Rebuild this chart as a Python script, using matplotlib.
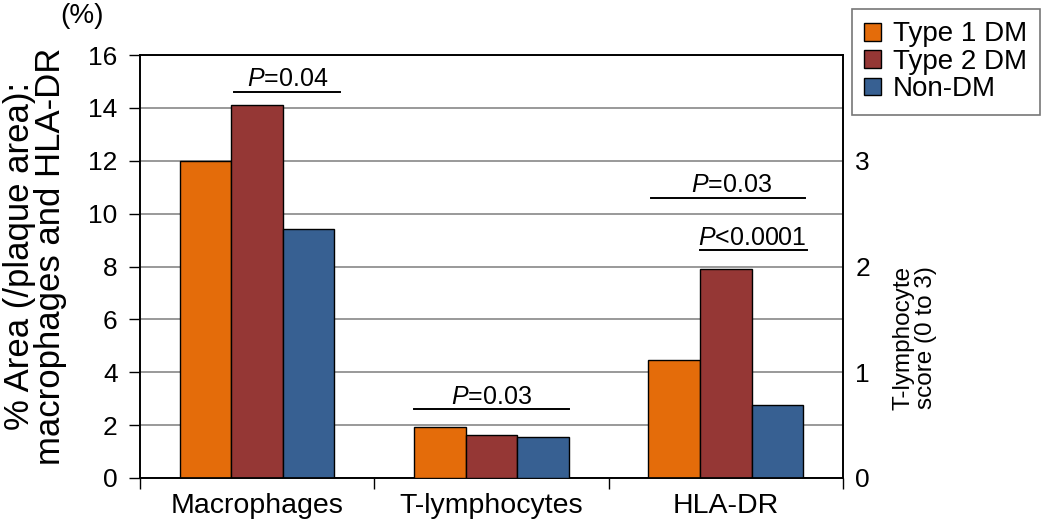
import numpy as np
import matplotlib
matplotlib.use("Agg")
import matplotlib.pyplot as plt
from matplotlib.patches import Patch

plt.rcParams['font.family'] = ['Liberation Sans', 'DejaVu Sans']
plt.rcParams['mathtext.fontset'] = 'custom'
plt.rcParams['mathtext.rm'] = 'Liberation Sans'
plt.rcParams['mathtext.it'] = 'Liberation Sans:italic'

categories = ['Macrophages', 'T-lymphocytes', 'HLA-DR']
groups = ['Type 1 DM', 'Type 2 DM', 'Non-DM']
colors = ['#E46C0A', '#953735', '#376092']

# % area (left axis) for macrophages and HLA-DR
macrophages = [12.0, 14.1, 9.4]
hla_dr = [4.45, 7.9, 2.75]
# T-lymphocyte score (right axis, 0 to 3)
t_lymph = [0.485, 0.41, 0.39]

fig = plt.figure(figsize=(10.5, 5.28), dpi=100)
ax = fig.add_axes([0.1333, 0.0947, 0.6695, 0.8011])
ax2 = ax.twinx()

w = 0.22
offsets = np.array([-1, 0, 1]) * w
for i in range(3):
    ax.bar(0 + offsets[i], macrophages[i], w, color=colors[i], edgecolor='black', linewidth=1, zorder=3)
    ax.bar(2 + offsets[i], hla_dr[i], w, color=colors[i], edgecolor='black', linewidth=1, zorder=3)
    ax2.bar(1 + offsets[i], t_lymph[i], w, color=colors[i], edgecolor='black', linewidth=1, zorder=3)

ax.set_xlim(-0.5, 2.5)
ax.set_ylim(0, 16)
ax2.set_ylim(0, 4)
ax.set_yticks(range(0, 17, 2))
ax2.set_yticks([0, 1, 2, 3])
ax.yaxis.grid(True, color='#888888', linewidth=1.2, zorder=0)
ax.set_axisbelow(True)

ax.set_xticks([0, 1, 2])
ax.set_xticklabels(categories, fontsize=20.5)
ax.set_xticks([-0.5, 0.5, 1.5, 2.5], minor=True)
ax.tick_params(axis='x', which='major', length=0, pad=11)
ax.tick_params(axis='x', which='minor', length=8, width=1, direction='out')
ax.tick_params(axis='y', labelsize=19, length=8, width=1, direction='out', pad=8)
ax2.tick_params(axis='y', labelsize=19, length=0, pad=9)

for a in (ax, ax2):
    for s in a.spines.values():
        s.set_linewidth(1.2)
        s.set_color('black')

# significance lines and labels
def sig(x0, x1, y, tx, ty, label):
    ax.plot([x0, x1], [y, y], color='black', linewidth=1.4, zorder=4, clip_on=False)
    ax.text(tx, ty, label, ha='center', va='baseline', fontsize=18, zorder=5)

sig(-0.10, 0.355, 14.6, 0.13, 14.83, r'$\it{P}$=0.04')
sig(0.67, 1.33, 2.61, 1.0, 2.80, r'$\it{P}$=0.03')
sig(1.68, 2.336, 10.6, 2.026, 10.82, r'$\it{P}$=0.03')
sig(1.89, 2.345, 8.62, 2.115, 8.81, r'$\it{P}$<0.0001')

fig.text(0.078, 0.970, '(%)', ha='center', va='center', fontsize=20)
fig.text(0.033, 0.515, '% Area (/plaque area):\nmacrophages and HLA-DR',
         rotation=90, ha='center', va='center', fontsize=25, linespacing=0.92)
fig.text(0.871, 0.36, 'T-lymphocyte\nscore (0 to 3)', rotation=90,
         ha='center', va='center', fontsize=17.5, linespacing=1.05)

handles = [Patch(facecolor=c, edgecolor='black', label=g) for c, g in zip(colors, groups)]
leg = fig.legend(handles=handles, loc='upper left', bbox_to_anchor=(0.811, 0.983),
                 fontsize=20, frameon=True, fancybox=False, edgecolor='#555555',
                 handlelength=0.6, handleheight=0.6, handletextpad=0.45,
                 borderpad=0.45, labelspacing=0.05, borderaxespad=0)
leg.get_frame().set_linewidth(1.2)

fig.savefig('out.png', dpi=100)
